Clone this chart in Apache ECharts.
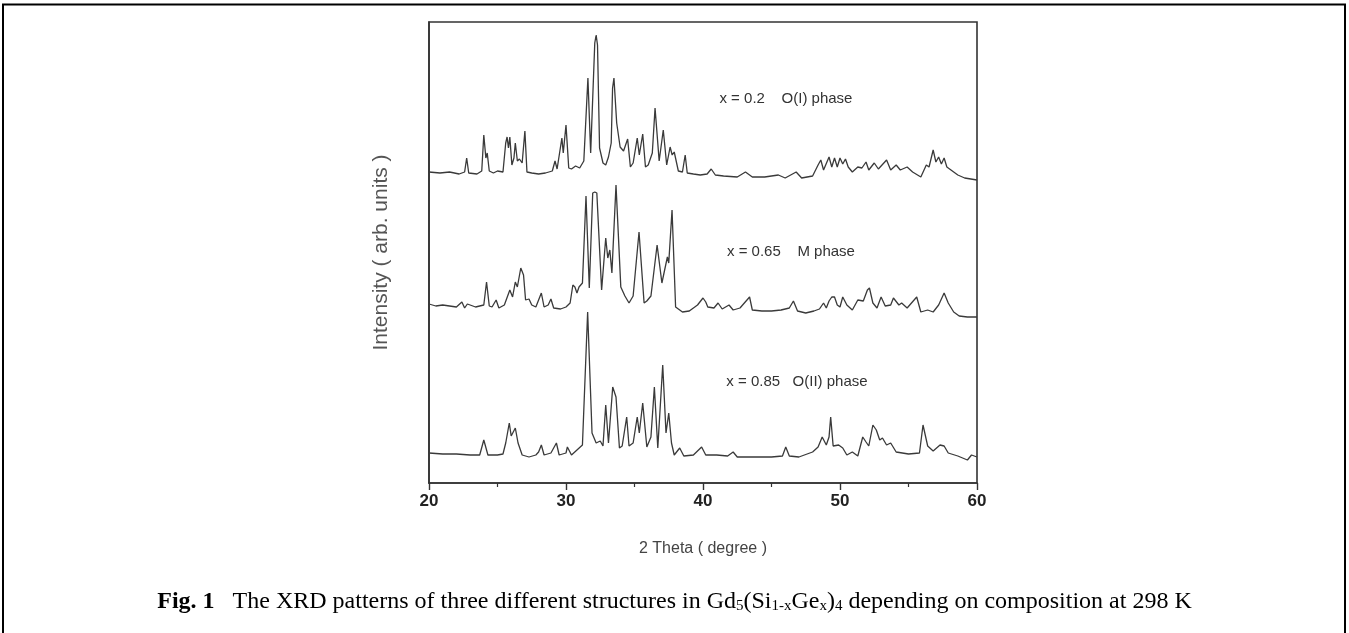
<!DOCTYPE html>
<html>
<head>
<meta charset="utf-8">
<script src="https://cdn.jsdelivr.net/npm/echarts@6/dist/echarts.min.js"></script>
<style>
html,body{margin:0;padding:0;background:#fff;}
#chart{width:1349px;height:633px;}
</style>
</head>
<body>
<div id="chart"></div>
<script>
// 2 Theta (degree) vs intensity (arb. units, patterns stacked as drawn)
var patternTop = [
[20.0,311],[20.8,310],[21.5,311],[22.2,309],[22.6,311],[22.75,325],[22.9,310],[23.5,309],[23.85,312],[24.0,348],[24.15,325],[24.25,330],[24.4,312],[24.7,310],[25.0,312],[25.4,311],[25.6,340],[25.7,346],[25.8,335],[25.9,346],[26.05,318],[26.2,325],[26.3,340],[26.45,322],[26.6,324],[26.8,320],[27.0,352],[27.15,311],[27.5,310],[28.0,309],[28.5,310],[29.0,312],[29.2,322],[29.35,314],[29.7,345],[29.8,330],[30.0,358],[30.2,315],[30.4,314],[30.7,317],[31.0,315],[31.3,322],[31.6,405],[31.8,330],[32.1,440],[32.2,448],[32.3,438],[32.45,335],[32.7,320],[32.9,318],[33.1,326],[33.3,340],[33.4,395],[33.5,405],[33.7,360],[33.8,358],[33.95,336],[34.2,332],[34.5,344],[34.7,316],[34.9,320],[35.2,345],[35.35,328],[35.6,349],[35.8,316],[36.0,318],[36.3,330],[36.5,375],[36.8,322],[37.1,353],[37.35,318],[37.6,336],[37.75,328],[37.9,331],[38.2,312],[38.5,311],[38.7,328],[38.85,310],[39.3,309],[39.8,308],[40.3,309],[40.6,314],[40.9,308],[41.5,307],[42.5,306],[43.1,311],[43.6,306],[44.5,306],[45.5,308],[46.0,305],[46.8,311],[47.2,305],[48.0,307],[48.4,318],[48.6,323],[48.8,313],[49.2,326],[49.4,316],[49.6,325],[49.8,316],[50.0,325],[50.2,319],[50.4,324],[50.6,316],[50.9,311],[51.3,316],[51.6,315],[51.9,321],[52.1,313],[52.5,320],[52.8,314],[53.4,323],[53.7,313],[54.1,318],[54.4,313],[54.9,316],[55.3,311],[55.9,306],[56.3,318],[56.5,316],[56.8,333],[57.0,321],[57.2,326],[57.4,319],[57.6,325],[57.8,316],[58.1,313],[58.6,308],[59.1,305],[60.0,303]
];
var patternMid = [
[20.0,179],[20.5,177],[21.0,178],[21.5,177],[22.0,176],[22.4,181],[22.6,175],[22.8,179],[23.4,176],[24.0,178],[24.2,201],[24.4,177],[24.6,176],[24.9,183],[25.1,175],[25.5,178],[25.9,193],[26.1,186],[26.3,201],[26.45,196],[26.7,215],[26.9,208],[27.05,183],[27.3,184],[27.5,178],[27.8,176],[28.2,190],[28.4,176],[28.7,178],[28.9,184],[29.1,175],[29.6,174],[30.0,176],[30.3,180],[30.5,198],[30.65,196],[30.8,190],[30.95,196],[31.2,200],[31.46,287],[31.7,195],[31.95,290],[32.1,291],[32.25,290],[32.6,193],[32.9,245],[33.05,225],[33.2,233],[33.35,210],[33.65,298],[34.0,196],[34.3,187],[34.6,180],[34.9,187],[35.33,251],[35.7,180],[35.9,182],[36.2,187],[36.65,238],[37.0,200],[37.4,226],[37.5,220],[37.74,273],[38.0,176],[38.5,171],[39.0,172],[39.6,178],[40.0,185],[40.2,181],[40.35,176],[40.8,175],[41.1,180],[41.4,174],[41.9,178],[42.2,173],[42.7,175],[43.4,186],[43.6,173],[44.3,172],[45.0,172],[45.7,173],[46.3,175],[46.6,182],[46.9,172],[47.5,170],[48.1,172],[48.5,174],[48.8,180],[49.0,175],[49.2,182],[49.4,186],[49.6,186],[49.8,178],[50.0,176],[50.2,186],[50.5,178],[50.9,173],[51.3,183],[51.7,182],[52.0,193],[52.15,195],[52.4,180],[52.7,175],[53.0,186],[53.3,177],[53.7,178],[53.9,185],[54.3,178],[54.5,180],[54.9,175],[55.6,186],[55.9,171],[56.4,173],[56.8,171],[57.2,178],[57.6,190],[57.9,180],[58.3,171],[58.7,167],[59.3,166],[60.0,166]
];
var patternBot = [
[20.0,30],[21.0,29],[22.0,29],[23.0,28],[23.7,28],[24.0,43],[24.3,28],[25.0,28],[25.4,29],[25.6,40],[25.86,60],[26.0,47],[26.3,55],[26.5,40],[26.8,28],[27.3,26],[27.8,28],[28.0,31],[28.2,38],[28.4,28],[28.9,30],[29.3,40],[29.5,28],[30.0,30],[30.1,36],[30.4,28],[30.8,33],[31.2,38],[31.58,171],[31.9,50],[32.2,40],[32.5,42],[32.7,37],[32.9,78],[33.1,40],[33.41,96],[33.65,86],[33.9,35],[34.1,37],[34.43,66],[34.6,37],[34.9,40],[35.2,66],[35.35,50],[35.6,80],[35.9,36],[36.2,46],[36.45,96],[36.7,35],[37.06,118],[37.3,50],[37.5,70],[37.7,40],[37.9,28],[38.3,35],[38.6,27],[39.3,28],[39.9,36],[40.2,28],[41.0,28],[41.8,27],[42.2,31],[42.5,26],[43.5,26],[45.0,26],[45.8,27],[46.04,36],[46.3,27],[47.0,26],[48.0,31],[48.4,36],[48.7,46],[49.0,38],[49.2,46],[49.32,66],[49.5,37],[49.9,38],[50.2,35],[50.5,28],[50.9,31],[51.3,27],[51.66,46],[51.9,41],[52.1,37],[52.4,58],[52.65,53],[52.9,43],[53.1,45],[53.4,38],[53.7,40],[54.1,31],[55.0,29],[55.8,30],[56.06,58],[56.2,60],[56.4,37],[56.8,32],[57.3,38],[57.6,37],[57.9,30],[58.6,27],[59.3,23],[59.6,28],[60.0,26]
];
var seriesNames = ['x = 0.2', 'x = 0.65', 'x = 0.85'];
var labelTexts = ['x = 0.2    O(I) phase', 'x = 0.65    M phase', 'x = 0.85   O(II) phase'];
var labelAnchors = [[41.2, 384], [41.75, 231], [41.7, 101]];
var xTicks = [20, 30, 40, 50, 60];

var chart = echarts.init(document.getElementById('chart'), null, {renderer: 'canvas'});
var lineStyle = {color: '#3a3a3a', width: 1.3};
var option = {
  animation: false,
  backgroundColor: '#fff',
  title: {
    text: '{b|Fig. 1}   The XRD patterns of three different structures in Gd{s|5}(Si{s|1-x}Ge{s|x}){s|4} depending on composition at 298 K',
    left: 'center',
    top: 585,
    textStyle: {
      fontFamily: 'Liberation Serif', fontSize: 24, fontWeight: 'normal', color: '#000',
      rich: {
        b: {fontFamily: 'Liberation Serif', fontSize: 24, fontWeight: 'bold', color: '#000'},
        s: {fontFamily: 'Liberation Serif', fontSize: 15, color: '#000', verticalAlign: 'bottom', lineHeight: 13}
      }
    }
  },
  grid: {left: 429, right: 372, top: 22, bottom: 150, show: true, borderColor: '#333', borderWidth: 1.6, containLabel: false},
  xAxis: {
    type: 'value', min: xTicks[0], max: xTicks[xTicks.length - 1], interval: 10,
    axisLine: {show: true, lineStyle: {color: '#333', width: 1.6}},
    axisTick: {show: true, length: 7, lineStyle: {color: '#333', width: 1.4}},
    minorTick: {show: true, splitNumber: 2, length: 4, lineStyle: {color: '#333', width: 1.2}},
    splitLine: {show: false},
    axisLabel: {fontFamily: 'Liberation Sans', fontWeight: 'bold', fontSize: 17, color: '#222', margin: 10},
    name: '2 Theta ( degree )', nameLocation: 'middle', nameGap: 58,
    nameTextStyle: {fontFamily: 'Liberation Sans', fontSize: 16, color: '#444'}
  },
  yAxis: {
    type: 'value', min: 0, max: 461,
    axisLine: {show: true, lineStyle: {color: '#333', width: 1.6}},
    axisTick: {show: false}, axisLabel: {show: false}, splitLine: {show: false},
    name: 'Intensity ( arb. units )', nameLocation: 'middle', nameGap: 37, nameRotate: 90,
    nameTextStyle: {fontFamily: 'Liberation Sans', fontSize: 21, color: '#555'}
  },
  series: [
    {name: seriesNames[0], type: 'line', data: patternTop, showSymbol: false, lineStyle: lineStyle, z: 3},
    {name: seriesNames[1], type: 'line', data: patternMid, showSymbol: false, lineStyle: lineStyle, z: 3},
    {name: seriesNames[2], type: 'line', data: patternBot, showSymbol: false, lineStyle: lineStyle, z: 3}
  ]
};
chart.setOption(option);

var graphics = [{
  type: 'rect', silent: true, z: 0,
  shape: {x: 3, y: 4.5, width: 1342, height: 660},
  style: {fill: 'none', stroke: '#000', lineWidth: 2}
}];
labelAnchors.forEach(function (a, i) {
  var p = chart.convertToPixel({gridIndex: 0}, a);
  graphics.push({
    type: 'text', silent: true, z: 10, x: p[0], y: p[1],
    style: {text: labelTexts[i], fill: '#333', fontFamily: 'Liberation Sans', fontSize: 15, align: 'left', verticalAlign: 'middle'}
  });
});
chart.setOption({graphic: graphics});
</script>
</body>
</html>
